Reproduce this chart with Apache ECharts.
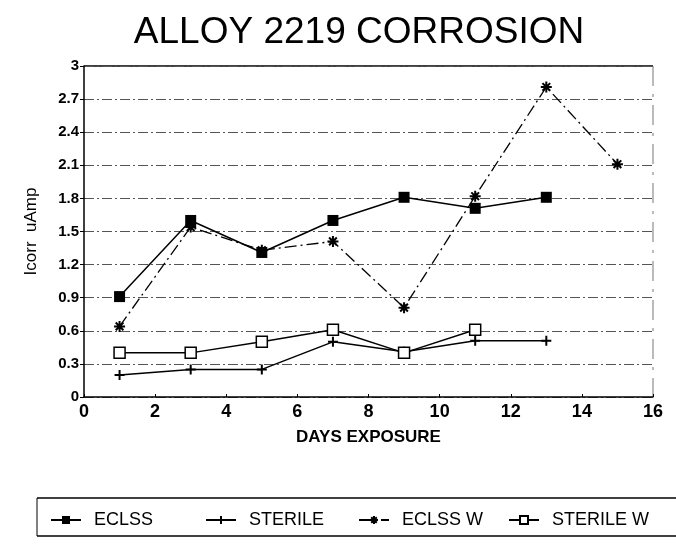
<!DOCTYPE html>
<html lang="en">
<head>
    <meta charset="UTF-8">
    <title>Alloy 2219 Corrosion</title>
    <script src="https://cdn.jsdelivr.net/npm/echarts@6/dist/echarts.min.js"></script>
    <style>
        html, body { margin: 0; padding: 0; background: #fff; }
        #main { width: 676px; height: 551px; }
    </style>
</head>
<body>
<div id="main"></div>
<script type="text/javascript">
    // 数据
    var days = [1, 3, 5, 7, 9, 11, 13, 15];
    var eclss = [0.91, 1.60, 1.31, 1.60, 1.81, 1.71, 1.81];
    var sterile = [0.20, 0.25, 0.25, 0.50, 0.41, 0.51, 0.51];
    var eclssW = [0.64, 1.54, 1.33, 1.41, 0.81, 1.82, 2.81, 2.11];
    var sterileW = [0.40, 0.40, 0.50, 0.61, 0.40, 0.61];
    var seriesNames = ['ECLSS', 'STERILE', 'ECLSS W', 'STERILE W'];
    var yTicks = [0, 0.3, 0.6, 0.9, 1.2, 1.5, 1.8, 2.1, 2.4, 2.7, 3];

    function pairs(vals) {
        return vals.map(function (v, i) { return [days[i], v]; });
    }

    var plusPath = 'path://M5,0 L5,10 M0,5 L10,5';
    var starPath = 'path://M5,0 L5,10 M0,5 L10,5 M1.5,1.5 L8.5,8.5 M8.5,1.5 L1.5,8.5';

    // 每个图例单独放，间距不一样
    var legendLeft = [45, 200, 353, 503];
    var legends = seriesNames.map(function (n, i) {
        return {
            left: legendLeft[i],
            top: 506,
            itemWidth: 30,
            itemHeight: 10,
            textStyle: { fontSize: 18, color: '#000', padding: [0, 0, 0, 8] },
            data: [n]
        };
    });

    var chart = echarts.init(document.getElementById('main'));
    var option = {
        animation: false,
        backgroundColor: '#fff',
        textStyle: { fontFamily: 'Liberation Sans, Arial, sans-serif', color: '#000' },
        title: {
            text: 'ALLOY 2219 CORROSION',
            left: 354,
            textAlign: 'center',
            top: 9,
            textStyle: { fontSize: 37, fontWeight: 'normal', color: '#000' }
        },
        grid: { left: 84, right: 23, top: 66, bottom: 154 },
        legend: legends,
        xAxis: {
            type: 'value',
            min: 0,
            max: 16,
            interval: 2,
            name: 'DAYS EXPOSURE',
            nameLocation: 'middle',
            nameGap: 32,
            nameTextStyle: { fontSize: 17, fontWeight: 'bold', color: '#000' },
            axisLine: { lineStyle: { color: '#000', width: 1.5 } },
            axisTick: { show: true, inside: true, length: 3, lineStyle: { color: '#000' } },
            axisLabel: { fontSize: 18, fontWeight: 'bold', color: '#000', margin: 6 },
            splitLine: { show: false }
        },
        yAxis: {
            type: 'value',
            min: 0,
            max: 3,
            interval: 0.3,
            name: 'Icorr  uAmp',
            nameLocation: 'middle',
            nameGap: 44,
            nameTextStyle: { fontSize: 17, color: '#000' },
            axisLine: { show: true, lineStyle: { color: '#000', width: 1.5 } },
            axisTick: { show: true, length: 4, lineStyle: { color: '#000' } },
            axisLabel: {
                fontSize: 15, fontWeight: 'bold', color: '#000', margin: 5,
                formatter: function (v) {
                    var t = yTicks.filter(function (k) { return Math.abs(k - v) < 1e-6; });
                    return t.length ? String(Math.round(t[0] * 10) / 10) : '';
                }
            },
            splitLine: { show: true, lineStyle: { color: '#555', width: 1, type: [10, 3, 2, 3] } }
        },
        graphic: [
            // 图例外框
            { type: 'line', shape: { x1: 37, y1: 498, x2: 676, y2: 498 }, style: { stroke: '#000', lineWidth: 1.5 } },
            { type: 'line', shape: { x1: 37, y1: 536, x2: 676, y2: 536 }, style: { stroke: '#000', lineWidth: 1.5 } },
            { type: 'line', shape: { x1: 37, y1: 498, x2: 37, y2: 536 }, style: { stroke: '#000', lineWidth: 1 } },
            // 顶部和右侧边框
            { type: 'line', shape: { x1: 84, y1: 66, x2: 653, y2: 66 }, style: { stroke: '#000', lineWidth: 1.5 } },
            { type: 'line', shape: { x1: 653, y1: 66, x2: 653, y2: 397 }, style: { stroke: '#777', lineWidth: 1, lineDash: [20, 8, 3, 8] } }
        ],
        series: [
            {
                name: 'ECLSS',
                type: 'line',
                data: pairs(eclss),
                symbol: 'rect',
                symbolSize: 11,
                itemStyle: { color: '#000' },
                lineStyle: { color: '#000', width: 1.5 }
            },
            {
                name: 'STERILE',
                type: 'line',
                data: pairs(sterile),
                symbol: plusPath,
                symbolSize: 10,
                itemStyle: { color: 'none', borderColor: '#000', borderWidth: 2 },
                lineStyle: { color: '#000', width: 1.5 }
            },
            {
                name: 'ECLSS W',
                type: 'line',
                data: pairs(eclssW),
                symbol: starPath,
                symbolSize: 11,
                itemStyle: { color: 'none', borderColor: '#000', borderWidth: 2 },
                lineStyle: { color: '#000', width: 1.3, type: [12, 4, 2, 4] }
            },
            {
                name: 'STERILE W',
                type: 'line',
                data: pairs(sterileW),
                symbol: 'rect',
                symbolSize: 11,
                itemStyle: { color: '#fff', borderColor: '#000', borderWidth: 1.5 },
                lineStyle: { color: '#000', width: 1.5 }
            }
        ]
    };
    chart.setOption(option);
</script>
</body>
</html>
